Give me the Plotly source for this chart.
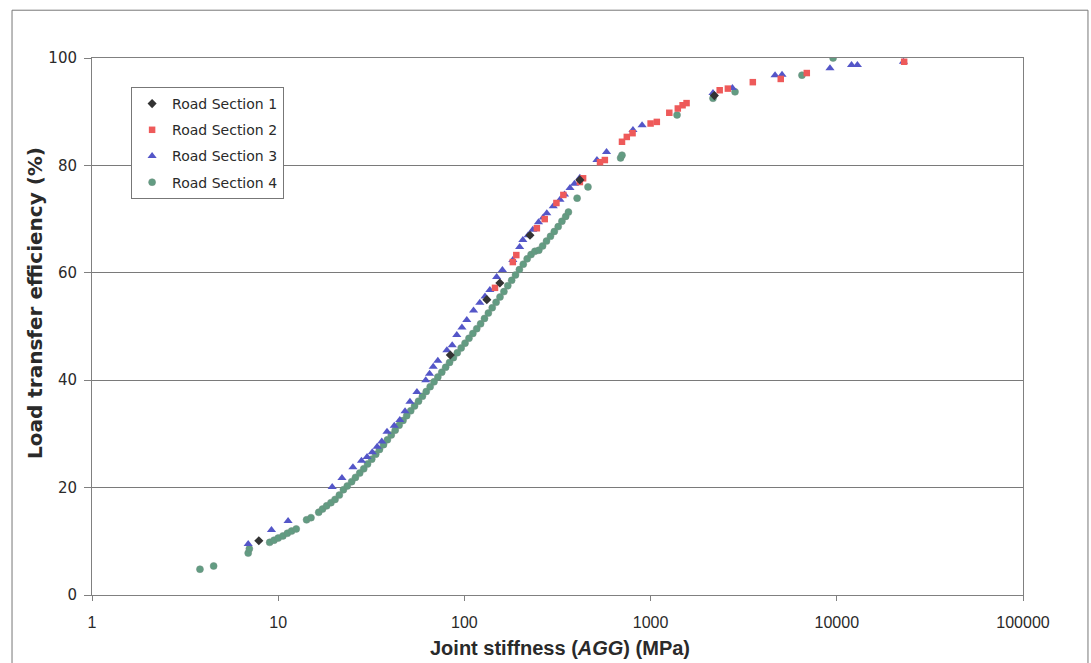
import plotly.graph_objects as go

# Road Section 1 (dark diamonds)
s1_x = [7.87, 84, 132, 155, 225, 417, 2200]
s1_y = [10.1, 44.7, 55.0, 58.1, 67.0, 77.3, 93.0]

# Road Section 2 (red squares)
s2_x = [146, 182, 190, 245, 270, 312, 340, 417, 434, 535, 568, 702, 745, 800,
        1000, 1080, 1260, 1400, 1485, 1560, 2350, 2600, 3540, 5000, 6900, 23000]
s2_y = [57.2, 62.0, 63.3, 68.3, 70.0, 73.0, 74.5, 76.9, 77.6, 80.6, 81.0, 84.4, 85.3, 86.0,
        87.8, 88.1, 89.8, 90.6, 91.2, 91.6, 94.0, 94.3, 95.5, 96.1, 97.2, 99.3]

# Road Section 3 (blue triangles)
s3_x = [6.9, 9.2, 11.3, 19.5, 22, 25.2, 28, 30, 32, 34, 36, 38.4, 42, 45, 48, 51, 55.6,
        62, 65, 68, 72, 80.5, 86, 91, 97, 103, 112, 121, 129, 137, 149, 160, 182, 198,
        206, 220, 233, 250, 265, 277, 300, 326, 345, 369, 390, 417, 515, 580, 804, 900,
        2163, 2750, 4660, 5080, 9190, 12000, 12900, 22800]
s3_y = [9.5, 12.1, 13.8, 20.1, 21.8, 23.8, 25.0, 25.7, 26.6, 27.6, 28.6, 30.4, 31.5, 32.6,
        34.2, 36.0, 37.8, 40.0, 41.2, 42.5, 43.6, 45.6, 46.5, 48.4, 49.8, 51.2, 53.0, 54.4,
        55.6, 56.8, 59.2, 60.5, 62.4, 64.8, 66.1, 67.0, 68.0, 69.4, 70.3, 71.1, 72.4, 73.6,
        74.6, 75.8, 76.6, 77.7, 81.0, 82.5, 86.6, 87.5, 93.5, 94.4, 96.8, 96.9, 98.1, 98.7,
        98.7, 99.3]

# Road Section 4 (green circles)
s4_x = [3.8, 4.5, 6.9, 7.0, 9.0, 9.5, 10.0, 10.6, 11.2, 11.8, 12.5, 14.2, 15.0, 16.5,
        17.3, 18.2, 19.2, 20.2, 21.3, 22.4, 23.5, 24.8, 26.0, 27.4, 28.8, 30.2, 31.8, 33.4,
        35.0, 36.8, 38.6, 40.5, 42.5, 44.6, 46.8, 49.0, 51.5, 54.0, 56.7, 59.5, 62.4, 65.5,
        68.7, 72.0, 75.6, 79.3, 83.2, 87.3, 91.6, 96.1, 100.8, 105.8, 111.0, 116.5, 122.2,
        128.2, 134.5, 141.1, 148.0, 155.3, 163.0, 171.0, 179.4, 188.2, 197.4, 207.1, 217.3,
        228.0, 239.2, 251, 263, 276, 290, 304, 319, 334, 350, 362, 403, 461, 690, 702,
        1387, 2163, 2840, 6500, 9550]
s4_y = [4.8, 5.4, 7.8, 8.6, 9.8, 10.2, 10.6, 11.0, 11.5, 11.9, 12.3, 14.0, 14.4, 15.4,
        16.0, 16.6, 17.2, 17.8, 18.6, 19.6, 20.3, 21.1, 21.9, 22.7, 23.5, 24.4, 25.3, 26.2,
        27.1, 28.0, 28.9, 29.8, 30.7, 31.6, 32.5, 33.4, 34.3, 35.2, 36.1, 37.0, 37.9, 38.8,
        39.7, 40.6, 41.5, 42.4, 43.3, 44.2, 45.1, 46.0, 46.9, 47.8, 48.7, 49.6, 50.5,
        51.5, 52.5, 53.5, 54.5, 55.5, 56.5, 57.6, 58.6, 59.6, 60.6, 61.6, 62.6,
        63.4, 64.0, 64.2, 65.0, 65.9, 66.8, 67.7, 68.6, 69.6, 70.5, 71.3, 73.9, 76.0, 81.4, 81.9,
        89.4, 92.5, 93.7, 96.8, 100.0]

x_tickvals = [1, 10, 100, 1000, 10000, 100000]
x_ticktext = ["1", "10", "100", "1000", "10000", "100000"]
y_tickvals = [0, 20, 40, 60, 80, 100]

ARIAL = "Liberation Sans, Arial, sans-serif"
WIDE = "DejaVu Sans, Verdana, sans-serif"
TXT = "#2a2a2a"

fig = go.Figure()
fig.add_trace(go.Scatter(x=s4_x, y=s4_y, mode="markers", name="Road Section 4",
                         legendgroup="4", legendrank=4,
                         marker=dict(symbol="circle", size=7, color="#629c82",
                                     line=dict(width=0.5, color="#6f8f80"))))
fig.add_trace(go.Scatter(x=s3_x, y=s3_y, mode="markers", name="Road Section 3",
                         legendgroup="3", legendrank=3,
                         marker=dict(symbol="triangle-up", size=8, color="#5456c8",
                                     line=dict(width=0))))
fig.add_trace(go.Scatter(x=s2_x, y=s2_y, mode="markers", name="Road Section 2",
                         legendgroup="2", legendrank=2,
                         marker=dict(symbol="square", size=6.5, color="#ee5a5a",
                                     line=dict(width=0))))
fig.add_trace(go.Scatter(x=s1_x, y=s1_y, mode="markers", name="Road Section 1",
                         legendgroup="1", legendrank=1,
                         marker=dict(symbol="diamond", size=7, color="#333333",
                                     line=dict(width=0))))

fig.update_layout(
    width=1091, height=663,
    margin=dict(l=92, r=68, t=58, b=68),
    paper_bgcolor="white", plot_bgcolor="white",
    font=dict(family=ARIAL, size=13, color=TXT),
    showlegend=True,
    legend=dict(x=0.042, y=0.946, xanchor="left", yanchor="top",
                bgcolor="white", bordercolor="#777777", borderwidth=1,
                font=dict(family=WIDE, size=14, color=TXT),
                traceorder="grouped", tracegroupgap=5,
                itemsizing="trace", itemwidth=30),
    xaxis=dict(type="log", range=[0, 5], tickvals=x_tickvals, ticktext=x_ticktext,
               showgrid=False, zeroline=False,
               showline=True, linecolor="#808080", linewidth=1, mirror=True,
               ticks="outside", ticklen=5, tickcolor="#808080",
               ticklabelstandoff=8,
               tickfont=dict(family=ARIAL, size=16, color=TXT)),
    yaxis=dict(range=[0, 100], tickvals=y_tickvals,
               showgrid=True, gridcolor="#7a7a7a", gridwidth=1, zeroline=False,
               showline=True, linecolor="#808080", linewidth=1, mirror=True,
               ticks="outside", ticklen=7, tickcolor="#808080",
               ticklabelstandoff=4,
               tickfont=dict(family=WIDE, size=15, color=TXT)),
    shapes=[dict(type="rect", xref="paper", yref="paper",
                 x0=-0.0859, x1=1.0698, y0=-0.16, y1=1.089,
                 line=dict(color="#777777", width=1), fillcolor="rgba(0,0,0,0)",
                 layer="below")],
    annotations=[
        dict(text="<b>Joint stiffness (<i>AGG</i>) (MPa)</b>", xref="paper", yref="paper",
             x=(560 - 92) / 931, y=(595 - 648) / 537, xanchor="center", yanchor="middle",
             showarrow=False, font=dict(family=ARIAL, size=20, color=TXT)),
        dict(text="<b>Load transfer efficiency (%)</b>", xref="paper", yref="paper",
             x=(35 - 92) / 931, y=(595 - 303) / 537, xanchor="center", yanchor="middle",
             textangle=-90, showarrow=False, font=dict(family=WIDE, size=20, color=TXT)),
    ],
)

fig.write_html("out.html")
